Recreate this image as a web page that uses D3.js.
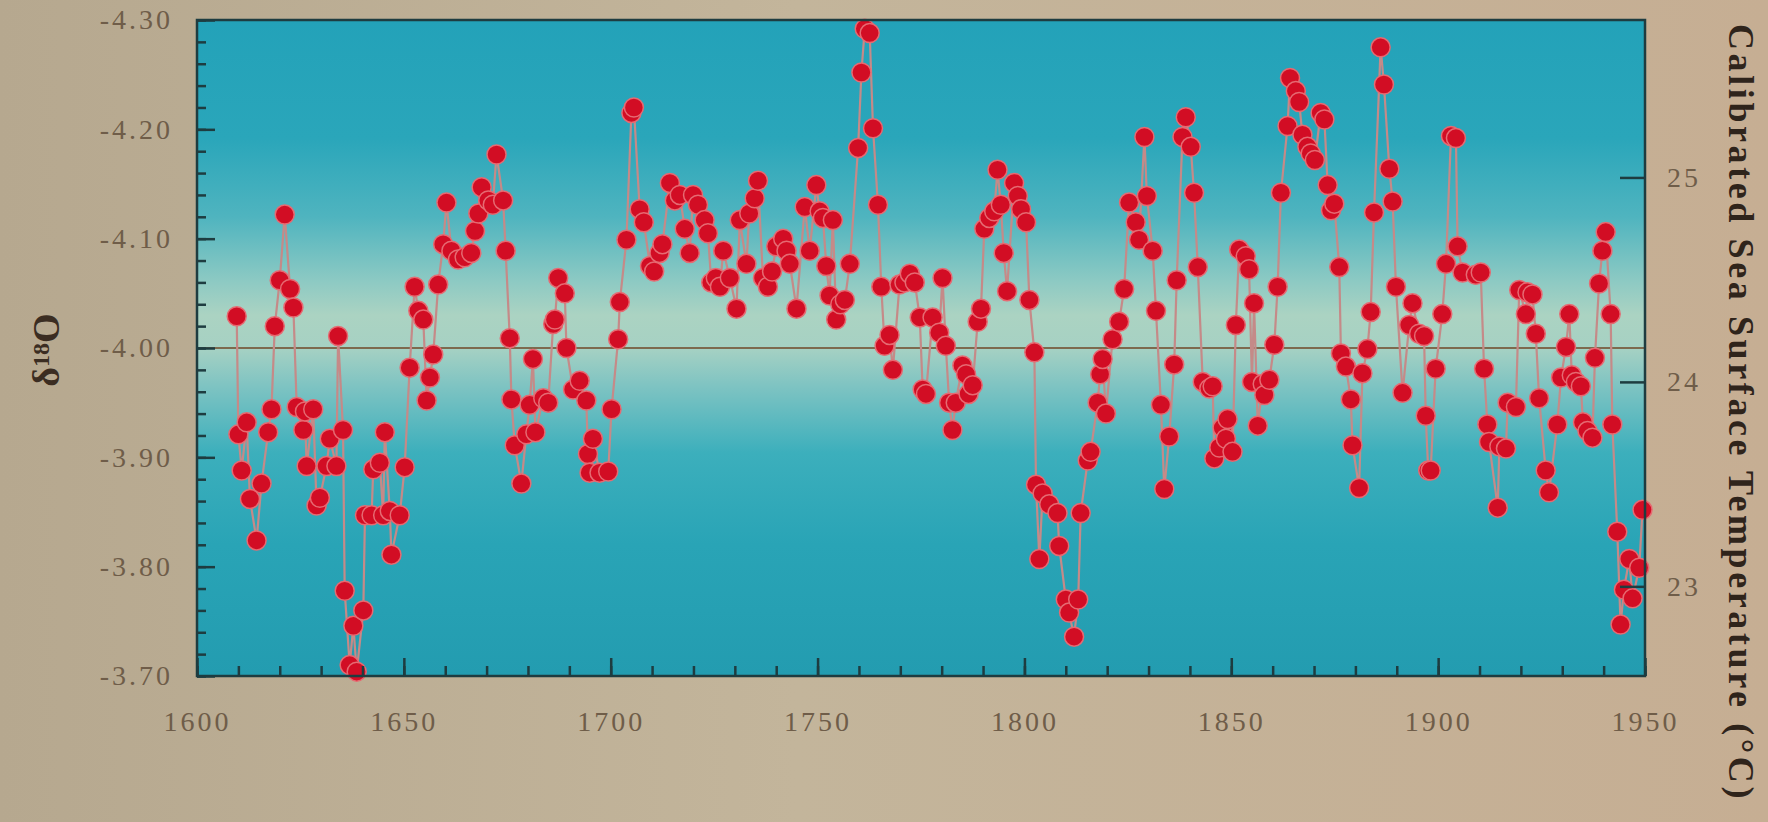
<!DOCTYPE html>
<html>
<head>
<meta charset="utf-8">
<script src="https://cdn.jsdelivr.net/npm/d3@7"></script>
<style>
  html, body { margin: 0; padding: 0; background: #c1b096; }
  svg { display: block; }
</style>
</head>
<body>
<div id="chart"></div>
<script>
// values, left to right
var years = [
  1609.6, 1610.0, 1610.8, 1612.0, 1612.8, 1614.4, 1615.6, 1617.2, 1618.0, 1618.8,
  1620.0, 1621.2, 1622.5, 1623.3, 1624.1, 1625.7, 1626.1, 1626.5, 1628.1, 1628.9,
  1629.7, 1631.3, 1632.1, 1633.7, 1634.1, 1635.3, 1635.7, 1636.9, 1637.8, 1638.6,
  1640.2, 1640.6, 1642.2, 1642.6, 1644.2, 1645.0, 1645.4, 1646.6, 1647.0, 1649.0,
  1650.2, 1651.4, 1652.6, 1653.5, 1654.7, 1655.5, 1656.3, 1657.1, 1658.3, 1659.5,
  1660.3, 1661.5, 1663.1, 1664.7, 1666.3, 1667.2, 1668.0, 1668.8, 1670.4, 1671.5,
  1672.4, 1674.0, 1674.6, 1675.6, 1676.0, 1676.8, 1678.4, 1679.6, 1680.4, 1681.2,
  1681.8, 1683.7, 1684.9, 1686.1, 1686.5, 1687.3, 1688.9, 1689.3, 1690.9, 1692.5,
  1694.1, 1694.5, 1694.9, 1695.7, 1697.3, 1699.4, 1700.2, 1701.8, 1702.2, 1703.8,
  1705.0, 1705.6, 1707.0, 1708.0, 1709.5, 1710.5, 1711.8, 1712.5, 1714.3, 1715.5,
  1716.7, 1717.9, 1719.1, 1719.9, 1721.1, 1722.7, 1723.5, 1724.3, 1725.4, 1726.4,
  1727.2, 1728.8, 1730.4, 1731.2, 1732.8, 1733.5, 1734.8, 1735.6, 1736.8, 1738.0,
  1739.0, 1740.0, 1741.7, 1742.5, 1743.3, 1744.9, 1746.9, 1748.1, 1749.7, 1750.5,
  1751.3, 1752.1, 1752.9, 1753.7, 1754.5, 1755.5, 1756.6, 1757.8, 1759.8, 1760.6,
  1761.4, 1762.6, 1763.4, 1764.6, 1765.4, 1766.2, 1767.4, 1768.2, 1769.8, 1771.0,
  1772.3, 1773.5, 1774.7, 1775.4, 1776.2, 1777.8, 1779.4, 1780.2, 1781.0, 1781.8,
  1782.6, 1783.4, 1785.0, 1785.9, 1786.5, 1787.5, 1788.7, 1789.5, 1790.3, 1791.5,
  1792.7, 1793.5, 1794.3, 1795.0, 1795.8, 1797.5, 1798.4, 1799.2, 1800.4, 1801.2,
  1802.4, 1802.8, 1803.6, 1804.4, 1806.0, 1808.0, 1808.4, 1810.0, 1810.8, 1812.0,
  1813.0, 1813.6, 1815.3, 1816.0, 1817.7, 1818.3, 1818.9, 1819.7, 1821.3, 1822.9,
  1824.1, 1825.3, 1826.9, 1827.7, 1829.0, 1829.6, 1831.0, 1831.8, 1833.0, 1833.8,
  1835.0, 1836.2, 1836.8, 1838.2, 1839.0, 1840.2, 1841.0, 1841.9, 1843.1, 1844.7,
  1845.5, 1845.9, 1847.1, 1847.9, 1848.7, 1849.1, 1850.3, 1851.1, 1851.9, 1853.5,
  1854.3, 1855.0, 1855.5, 1856.4, 1857.6, 1858.0, 1859.2, 1860.4, 1861.2, 1862.0,
  1863.6, 1864.2, 1865.6, 1866.4, 1867.2, 1868.4, 1869.2, 1870.2, 1871.6, 1872.5,
  1873.3, 1874.1, 1874.9, 1876.1, 1876.5, 1877.7, 1878.9, 1879.3, 1880.9, 1881.7,
  1882.9, 1883.7, 1884.5, 1886.1, 1886.9, 1888.2, 1889.0, 1889.8, 1891.4, 1893.0,
  1893.8, 1895.4, 1896.6, 1897.0, 1897.6, 1898.2, 1899.4, 1901.0, 1901.9, 1903.1,
  1904.3, 1904.7, 1905.9, 1909.1, 1910.3, 1911.1, 1911.9, 1912.3, 1914.4, 1914.8,
  1916.4, 1916.8, 1918.8, 1919.6, 1921.2, 1921.6, 1922.8, 1923.6, 1924.4, 1926.0,
  1926.8, 1928.8, 1929.7, 1930.9, 1931.7, 1932.3, 1933.3, 1934.5, 1935.0, 1936.1,
  1937.3, 1937.9, 1938.9, 1939.7, 1940.5, 1941.7, 1942.1, 1943.3, 1944.1, 1944.9,
  1946.2, 1947.0, 1948.6, 1949.4
];
var d18O = [
  -4.029, -3.921, -3.888, -3.932, -3.862, -3.824, -3.876, -3.923, -3.944, -4.020,
  -4.062, -4.122, -4.054, -4.037, -3.946, -3.925, -3.942, -3.892, -3.944, -3.856,
  -3.863, -3.892, -3.917, -3.892, -4.011, -3.925, -3.778, -3.710, -3.746, -3.704,
  -3.760, -3.847, -3.847, -3.889, -3.895, -3.847, -3.923, -3.851, -3.811, -3.847,
  -3.891, -3.982, -4.056, -4.034, -4.026, -3.952, -3.973, -3.994, -4.058, -4.095,
  -4.133, -4.089, -4.081, -4.083, -4.087, -4.107, -4.123, -4.147, -4.135, -4.131,
  -4.177, -4.135, -4.089, -4.009, -3.953, -3.911, -3.876, -3.921, -3.948, -3.990,
  -3.923, -3.954, -3.950, -4.022, -4.026, -4.064, -4.050, -4.000, -3.962, -3.970,
  -3.952, -3.903, -3.886, -3.917, -3.886, -3.887, -3.944, -4.008, -4.042, -4.099,
  -4.215, -4.220, -4.127, -4.115, -4.075, -4.070, -4.087, -4.095, -4.151, -4.135,
  -4.140, -4.109, -4.087, -4.140, -4.131, -4.117, -4.105, -4.060, -4.064, -4.056,
  -4.089, -4.064, -4.036, -4.117, -4.077, -4.123, -4.137, -4.153, -4.064, -4.056,
  -4.070, -4.093, -4.100, -4.089, -4.077, -4.036, -4.129, -4.089, -4.149, -4.125,
  -4.119, -4.075, -4.048, -4.117, -4.026, -4.040, -4.044, -4.077, -4.183, -4.252,
  -4.292, -4.288, -4.201, -4.131, -4.056, -4.002, -4.012, -3.980, -4.058, -4.060,
  -4.068, -4.060, -4.028, -3.962, -3.958, -4.028, -4.014, -4.064, -4.002, -3.950,
  -3.925, -3.950, -3.984, -3.976, -3.958, -3.966, -4.024, -4.036, -4.109, -4.119,
  -4.125, -4.163, -4.131, -4.087, -4.052, -4.151, -4.139, -4.127, -4.115, -4.044,
  -3.996, -3.875, -3.807, -3.867, -3.857, -3.849, -3.819, -3.770, -3.758, -3.736,
  -3.770, -3.849, -3.897, -3.905, -3.950, -3.976, -3.990, -3.940, -4.008, -4.024,
  -4.054, -4.133, -4.115, -4.099, -4.193, -4.139, -4.089, -4.034, -3.948, -3.871,
  -3.919, -3.985, -4.062, -4.193, -4.211, -4.184, -4.142, -4.074, -3.969, -3.963,
  -3.965, -3.899, -3.909, -3.927, -3.917, -3.935, -3.905, -4.021, -4.090, -4.084,
  -4.072, -3.969, -4.041, -3.929, -3.967, -3.957, -3.971, -4.003, -4.056, -4.142,
  -4.203, -4.247, -4.235, -4.225, -4.195, -4.184, -4.178, -4.172, -4.215, -4.209,
  -4.149, -4.126, -4.132, -4.074, -3.995, -3.983, -3.953, -3.911, -3.872, -3.977,
  -3.999, -4.033, -4.124, -4.275, -4.241, -4.164, -4.134, -4.056, -3.959, -4.021,
  -4.041, -4.013, -4.011, -3.938, -3.888, -3.888, -3.981, -4.031, -4.077, -4.194,
  -4.192, -4.093, -4.069, -4.067, -4.069, -3.981, -3.930, -3.914, -3.854, -3.910,
  -3.908, -3.950, -3.946, -4.053, -4.031, -4.051, -4.049, -4.013, -3.954, -3.888,
  -3.868, -3.930, -3.973, -4.001, -4.031, -3.975, -3.969, -3.965, -3.932, -3.924,
  -3.918, -3.991, -4.059, -4.089, -4.106, -4.031, -3.930, -3.832, -3.747, -3.779,
  -3.807, -3.771, -3.799, -3.852
];

var yearTicks = d3.range(1600, 1951, 10);
var yearLabels = [1600, 1650, 1700, 1750, 1800, 1850, 1900, 1950];
var d18OTicks = d3.range(-4.30, -3.699, 0.02);
var d18OLabels = [-4.30, -4.20, -4.10, -4.00, -3.90, -3.80, -3.70];
var sstTicks = [23, 24, 25];
var baseLine = -4.00;

var width = 1768, height = 822;
var mLeft = 197, mRight = 1645, mTop = 20, mBottom = 676;

var svg = d3.select("#chart").append("svg")
    .attr("width", width)
    .attr("height", height);

var defs = svg.append("defs");

var bg = defs.append("linearGradient").attr("id", "bg")
    .attr("x1", 0).attr("y1", 0).attr("x2", 1).attr("y2", 0);
bg.append("stop").attr("offset", "0%").attr("stop-color", "#b6a88f");
bg.append("stop").attr("offset", "45%").attr("stop-color", "#c3b59b");
bg.append("stop").attr("offset", "100%").attr("stop-color", "#c6ae93");

var pf = defs.append("linearGradient").attr("id", "plotfill")
    .attr("x1", 0).attr("y1", 0).attr("x2", 0).attr("y2", 1);
[["0%", "#23a2b9"], ["18%", "#2aa6ba"], ["30%", "#4fb4bf"], ["40%", "#8ecac3"],
 ["45%", "#abd3c2"], ["50%", "#a6d1c3"], ["56%", "#7dc3c2"], ["66%", "#3cafbc"],
 ["80%", "#29a4b6"], ["100%", "#239cb0"]]
  .forEach(function(s) {
    pf.append("stop").attr("offset", s[0]).attr("stop-color", s[1]);
  });

svg.append("rect")
    .attr("width", width).attr("height", height)
    .attr("fill", "url(#bg)");

var x = d3.scaleLinear().domain([1600, 1950]).range([mLeft, mRight]);
var y = d3.scaleLinear().domain([-4.30, -3.70]).range([mTop, mBottom]);
// calibration: about -0.187 permil per degree, 24 C at -3.969
var sst = d3.scaleLinear()
    .domain([24 + (-3.969 + 4.30) / 0.187, 24 - (-3.70 + 3.969) / 0.187])
    .range([mTop, mBottom]);

svg.append("rect")
    .attr("x", mLeft).attr("y", mTop)
    .attr("width", mRight - mLeft).attr("height", mBottom - mTop)
    .attr("fill", "url(#plotfill)");

svg.append("line")
    .attr("x1", mLeft).attr("x2", mRight)
    .attr("y1", y(baseLine)).attr("y2", y(baseLine))
    .attr("stroke", "#7d6a4e")
    .attr("stroke-width", 2);

var data = years.map(function(yr, i) { return { year: yr, v: d18O[i] }; });

var line = d3.line()
    .x(function(d) { return x(d.year); })
    .y(function(d) { return y(d.v); });

svg.append("path")
    .datum(data)
    .attr("d", line)
    .attr("fill", "none")
    .attr("stroke", "#c58a88")
    .attr("stroke-width", 2.2);

svg.selectAll("circle.pt")
    .data(data)
    .enter()
    .append("circle")
    .attr("class", "pt")
    .attr("cx", function(d) { return x(d.year); })
    .attr("cy", function(d) { return y(d.v); })
    .attr("r", 9.5)
    .attr("fill", "#d20d24")
    .attr("stroke", "#e66a72")
    .attr("stroke-width", 1.5);

svg.append("rect")
    .attr("x", mLeft).attr("y", mTop)
    .attr("width", mRight - mLeft).attr("height", mBottom - mTop)
    .attr("fill", "none")
    .attr("stroke", "#1e3c40")
    .attr("stroke-width", 2.5);

var tickFont = "'Liberation Serif', 'Times New Roman', serif";

function styleAxis(g) {
  g.select(".domain").remove();
  g.selectAll(".tick line").attr("stroke", "#1e3c40").attr("stroke-width", 2.5);
  g.selectAll(".tick text")
    .attr("fill", "#6f5d49")
    .style("font-family", tickFont)
    .style("font-size", "28px")
    .style("letter-spacing", "3px");
}

// x axis: minor then major
svg.append("g")
    .attr("transform", "translate(0," + mBottom + ")")
    .call(d3.axisBottom(x).tickValues(yearTicks).tickSize(-10).tickFormat(""))
    .call(styleAxis);
svg.append("g")
    .attr("transform", "translate(0," + mBottom + ")")
    .call(d3.axisBottom(x).tickValues(yearLabels).tickSize(-18).tickPadding(35)
      .tickFormat(function(d) { return String(d); }))
    .call(styleAxis);

// left axis
svg.append("g")
    .attr("transform", "translate(" + mLeft + ",0)")
    .call(d3.axisLeft(y).tickValues(d18OTicks).tickSize(-9).tickFormat(""))
    .call(styleAxis);
svg.append("g")
    .attr("transform", "translate(" + mLeft + ",0)")
    .call(d3.axisLeft(y).tickValues(d18OLabels).tickSize(-18).tickPadding(24)
      .tickFormat(function(d) { return d.toFixed(2); }))
    .call(styleAxis);

// right axis, temperature
svg.append("g")
    .attr("transform", "translate(" + mRight + ",0)")
    .call(d3.axisRight(sst).tickValues(sstTicks).tickSize(-25).tickPadding(22)
      .tickFormat(function(d) { return String(d); }))
    .call(styleAxis);

// axis titles
var yTitle = svg.append("text")
    .attr("transform", "translate(59,350) rotate(-90)")
    .attr("text-anchor", "middle")
    .attr("fill", "#3b2d22")
    .style("font-family", tickFont)
    .style("font-size", "38px")
    .style("font-weight", "bold");
yTitle.append("tspan").text("δ");
yTitle.append("tspan").attr("font-size", "24px").attr("dy", "-10").text("18");
yTitle.append("tspan").attr("dy", "10").text("O");

svg.append("text")
    .attr("transform", "translate(1729,24) rotate(90)")
    .attr("text-anchor", "start")
    .attr("fill", "#2f241b")
    .style("font-family", tickFont)
    .style("font-size", "36px")
    .style("font-weight", "bold")
    .style("letter-spacing", "3.6px")
    .text("Calibrated Sea Surface Temperature (°C)");
</script>
</body>
</html>
